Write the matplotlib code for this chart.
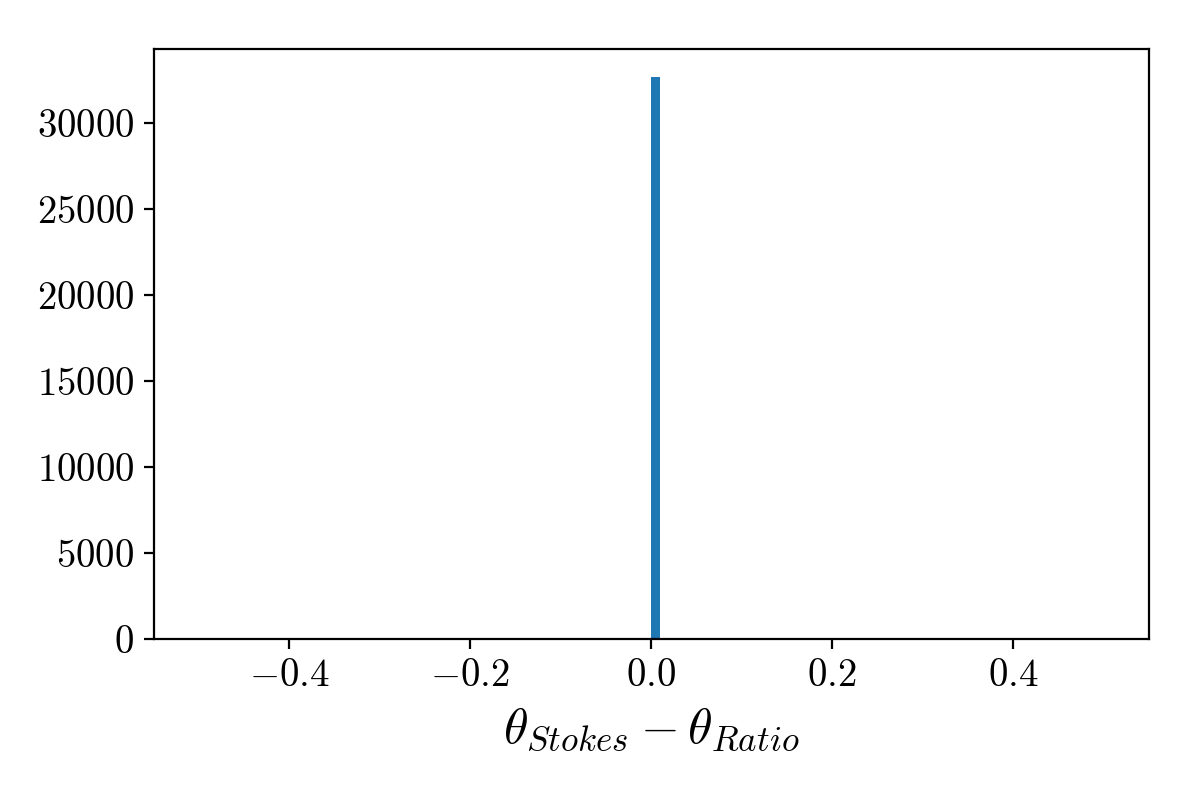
import numpy as np
import matplotlib
matplotlib.use("Agg")
import matplotlib.pyplot as plt

plt.rcParams['font.family'] = 'serif'
plt.rcParams['font.serif'] = ['cmr10']
plt.rcParams['mathtext.fontset'] = 'cm'
plt.rcParams['axes.formatter.use_mathtext'] = True
plt.rcParams['font.size'] = 14

# histogram of theta difference, 100 bins over [-0.5, 0.5]
bin_edges = np.linspace(-0.5, 0.5, 101)
filled_bin_left = [0.0]
filled_bin_count = [32700]

centers = np.array(filled_bin_left) + 0.005

fig, ax = plt.subplots(figsize=(6, 4), dpi=200)
ax.hist(centers, bins=bin_edges, weights=filled_bin_count, color='#1f77b4')
ax.set_xlabel(r'$\theta_{Stokes} - \theta_{Ratio}$', fontsize=18)
fig.subplots_adjust(left=0.128, right=0.9575, top=0.939, bottom=0.201)
fig.savefig('out.png', dpi=200)
